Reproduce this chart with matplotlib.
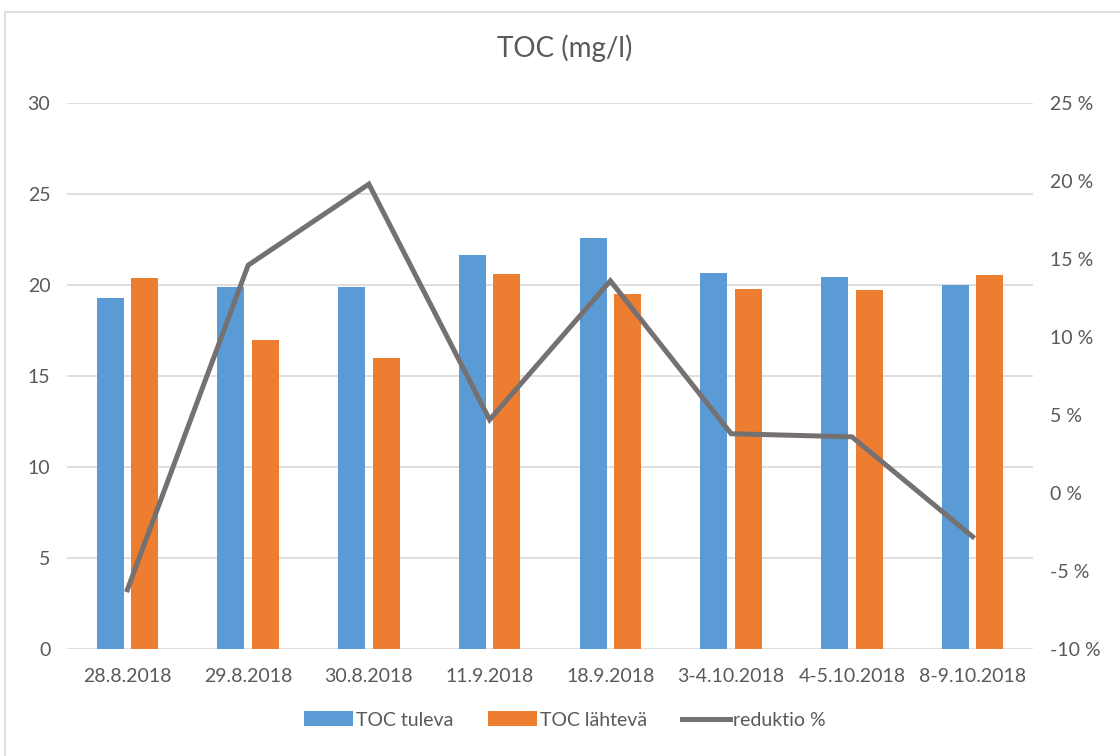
import numpy as np
import matplotlib.pyplot as plt
from matplotlib.patches import Rectangle
from matplotlib.ticker import FuncFormatter

# Data:
dates = ["28.8.2018", "29.8.2018", "30.8.2018", "11.9.2018",
         "18.9.2018", "3-4.10.2018", "4-5.10.2018", "8-9.10.2018"]
toc_in = [19.3, 19.9, 19.9, 21.65, 22.6, 20.65, 20.45, 20.0]
toc_out = [20.4, 17.0, 16.0, 20.6, 19.5, 19.8, 19.7, 20.55]
reduction = [-6.2, 14.6, 19.8, 4.7, 13.6, 3.8, 3.6, -2.8]

# Style:
font = "Lato"
text_color = "#595959"
blue = "#5B9BD5"
orange = "#ED7D31"
gray = "#767171"
label_size = 14
plt.rcParams["font.family"] = [font, "DejaVu Sans"]

fig = plt.figure(figsize=(11.2, 7.56), dpi=100)
fig.patches.append(Rectangle((5 / 1120, -0.1), 1.2, 1 - 12 / 756 + 0.1,
                             transform=fig.transFigure, fill=False,
                             edgecolor="#D9D9D9", linewidth=1.2))

ax = fig.add_axes([67 / 1120, 1 - 649 / 756, 966 / 1120, 546 / 756])
x = np.arange(len(dates))
width = 0.223
ax.bar(x - 0.143, toc_in, width, color=blue, label="TOC tuleva", zorder=2)
ax.bar(x + 0.143, toc_out, width, color=orange, label="TOC lähtevä", zorder=2)

ax.set_xlim(-0.5, len(dates) - 0.5)
ax.set_ylim(0, 30)
ax.set_yticks(range(0, 31, 5))
ax.set_xticks(x)
ax.set_xticklabels(dates)
ax.grid(axis="y", color="#D9D9D9", linewidth=1.2, zorder=0)
for s in ax.spines.values():
    s.set_visible(False)
ax.tick_params(length=0, labelsize=label_size, colors=text_color, pad=12)
ax.tick_params(axis="x", pad=14)

ax2 = ax.twinx()
ax2.plot(x, reduction, color=gray, linewidth=3.6, label="reduktio %",
         solid_joinstyle="miter", zorder=3)
ax2.set_ylim(-10, 25)
ax2.set_yticks(range(-10, 26, 5))
ax2.yaxis.set_major_formatter(FuncFormatter(lambda v, p: f"{v:.0f} %"))
for s in ax2.spines.values():
    s.set_visible(False)
ax2.tick_params(length=0, labelsize=label_size, colors=text_color, pad=12)

fig.suptitle("TOC (mg/l)", x=565 / 1120, y=1 - 34 / 756, fontsize=20,
             color=text_color)

h1, l1 = ax.get_legend_handles_labels()
h2, l2 = ax2.get_legend_handles_labels()
fig.legend(h1 + h2, l1 + l2, loc="center", bbox_to_anchor=(565 / 1120, 1 - 720 / 756),
           ncol=3, frameon=False, fontsize=label_size, labelcolor=text_color,
           handlelength=2.5, handleheight=0.8, columnspacing=1.8, handletextpad=0.15)

fig.savefig("out.png", dpi=100)
